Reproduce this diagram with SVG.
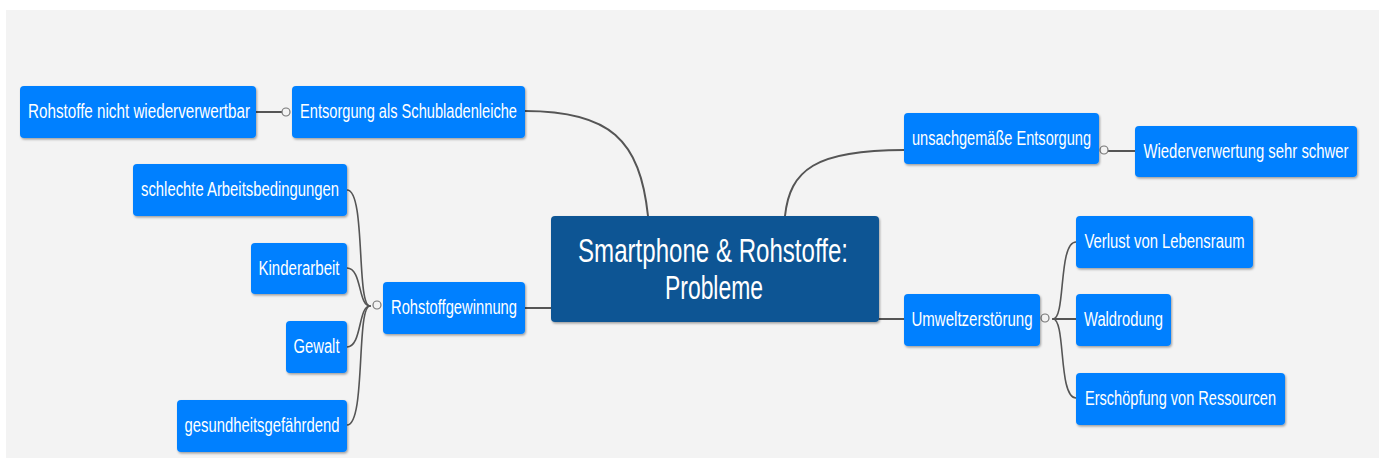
<svg xmlns="http://www.w3.org/2000/svg" width="1379" height="461" viewBox="0 0 1379 461">
<defs>
<filter id="sh" x="-10%" y="-10%" width="120%" height="130%">
<feDropShadow dx="1" dy="1.5" stdDeviation="0.8" flood-color="#000" flood-opacity="0.35"/>
</filter>
</defs>
<style>
.bg{fill:#f3f3f3}
.node rect{fill:#0080ff;filter:url(#sh)}
.central rect{fill:#0e5494;filter:url(#sh)}
text{font-family:"Liberation Sans",Arial,sans-serif;fill:#ffffff;text-anchor:middle}
.node text{font-size:20px}
.central text{font-size:33px}
.conn path,.conn line{fill:none;stroke:#555555;stroke-width:2;stroke-linecap:round}
.conn .thin{stroke-width:1.6}
.conn circle{fill:#f3f3f3;stroke:#777777;stroke-width:1.2}
</style>
<rect x="0" y="0" width="1379" height="461" fill="#ffffff"/>
<rect class="bg" x="6" y="10" width="1373" height="448"/>

<g id="connectors" class="conn">
<path d="M525,111 C610,111 640,140 648,216" stroke-width="2.4"/>
<path d="M904,150 C815,150 790,170 785,216" stroke-width="2.4"/>
<line x1="525" y1="308" x2="551" y2="308" stroke-width="2.6"/>
<line x1="879" y1="319" x2="904" y2="319" stroke-width="2.6"/>
<line x1="256" y1="112" x2="282" y2="112" stroke-width="2.4"/>
<circle cx="286" cy="112" r="4"/>
<line x1="1108" y1="151" x2="1135" y2="151" stroke-width="2.4"/>
<circle cx="1104" cy="150" r="4"/>
<path class="thin" d="M370,306 C356,306 366,190 347,190"/>
<path class="thin" d="M370,306 C358,306 362,268 347,268"/>
<path class="thin" d="M370,306 C358,306 362,347 347,347"/>
<path class="thin" d="M370,306 C356,306 366,425 347,425"/>
<circle cx="377" cy="305" r="4"/>
<path class="thin" d="M1053,319 C1066,319 1058,242 1076,242"/>
<line x1="1053" y1="319" x2="1076" y2="319" stroke-width="2.4"/>
<path class="thin" d="M1053,319 C1066,319 1058,398 1076,398"/>
<circle cx="1045" cy="318" r="4"/>
</g>

<g id="n_central" class="central">
<rect x="551" y="216" width="328" height="106" rx="4"/>
<text x="713" y="262" textLength="270" lengthAdjust="spacingAndGlyphs">Smartphone &amp; Rohstoffe:</text>
<text x="714" y="299" textLength="98" lengthAdjust="spacingAndGlyphs">Probleme</text>
</g>
<g id="n_rohstoffe_nicht" class="node">
<rect x="20" y="86" width="236" height="52" rx="4"/>
<text x="139" y="118" textLength="222" lengthAdjust="spacingAndGlyphs">Rohstoffe nicht wiederverwertbar</text>
</g>
<g id="n_entsorgung_schublade" class="node">
<rect x="292" y="86" width="233" height="52" rx="4"/>
<text x="408.5" y="118" textLength="217" lengthAdjust="spacingAndGlyphs">Entsorgung als Schubladenleiche</text>
</g>
<g id="n_schlechte" class="node">
<rect x="133" y="164" width="214" height="52" rx="4"/>
<text x="240" y="196" textLength="198" lengthAdjust="spacingAndGlyphs">schlechte Arbeitsbedingungen</text>
</g>
<g id="n_kinderarbeit" class="node">
<rect x="251" y="243" width="96" height="51" rx="4"/>
<text x="299" y="275" textLength="81" lengthAdjust="spacingAndGlyphs">Kinderarbeit</text>
</g>
<g id="n_rohstoffgewinnung" class="node">
<rect x="383" y="282" width="142" height="52" rx="4"/>
<text x="454" y="314" textLength="126" lengthAdjust="spacingAndGlyphs">Rohstoffgewinnung</text>
</g>
<g id="n_gewalt" class="node">
<rect x="286" y="321" width="61" height="52" rx="4"/>
<text x="316.5" y="353" textLength="46" lengthAdjust="spacingAndGlyphs">Gewalt</text>
</g>
<g id="n_gesundheit" class="node">
<rect x="177" y="400" width="170" height="52" rx="4"/>
<text x="262" y="432" textLength="155" lengthAdjust="spacingAndGlyphs">gesundheitsgefährdend</text>
</g>
<g id="n_unsachgemaess" class="node">
<rect x="904" y="113" width="195" height="51" rx="4"/>
<text x="1001.5" y="145" textLength="179" lengthAdjust="spacingAndGlyphs">unsachgemäße Entsorgung</text>
</g>
<g id="n_wiederverwertung" class="node">
<rect x="1135" y="126" width="222" height="51" rx="4"/>
<text x="1246" y="158" textLength="205" lengthAdjust="spacingAndGlyphs">Wiederverwertung sehr schwer</text>
</g>
<g id="n_umwelt" class="node">
<rect x="904" y="294" width="136" height="52" rx="4"/>
<text x="972" y="326" textLength="121" lengthAdjust="spacingAndGlyphs">Umweltzerstörung</text>
</g>
<g id="n_verlust" class="node">
<rect x="1076" y="216" width="177" height="52" rx="4"/>
<text x="1164.5" y="248" textLength="160" lengthAdjust="spacingAndGlyphs">Verlust von Lebensraum</text>
</g>
<g id="n_waldrodung" class="node">
<rect x="1076" y="294" width="95" height="52" rx="4"/>
<text x="1123.5" y="326" textLength="79" lengthAdjust="spacingAndGlyphs">Waldrodung</text>
</g>
<g id="n_erschoepfung" class="node">
<rect x="1076" y="373" width="209" height="52" rx="4"/>
<text x="1180.5" y="405" textLength="191" lengthAdjust="spacingAndGlyphs">Erschöpfung von Ressourcen</text>
</g>
</svg>
